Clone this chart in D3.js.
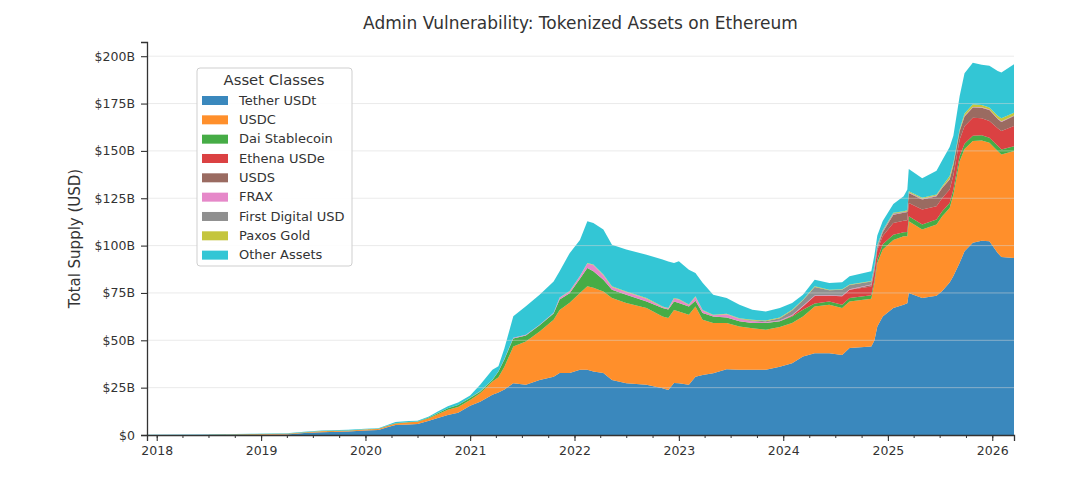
<!DOCTYPE html>
<html>
<head>
<meta charset="utf-8">
<script src="https://cdn.jsdelivr.net/npm/d3@7"></script>
<style>
  body { margin: 0; background: #fff; }
  svg { display: block; font-family: "DejaVu Sans", sans-serif; }
</style>
</head>
<body>
<div id="chart"></div>
<script>
// Sample dates (irregular, denser where the supply moves fast)
const dates = [
  "2017-11-28","2018-06-01","2018-12-01","2019-04-01","2019-06-01","2019-08-01","2019-11-01",
  "2020-01-01","2020-02-15","2020-03-20","2020-04-15","2020-06-01","2020-07-01","2020-08-10",
  "2020-09-10","2020-10-15","2020-11-20","2021-01-01","2021-02-05","2021-03-20","2021-04-10",
  "2021-05-01","2021-06-01","2021-07-15","2021-09-01","2021-10-20","2021-11-10","2021-12-15",
  "2022-01-20","2022-02-15","2022-03-08","2022-04-12","2022-05-12","2022-07-01","2022-09-10",
  "2022-11-05","2022-11-25","2022-12-15","2023-01-01","2023-02-05","2023-02-28","2023-03-25",
  "2023-05-01","2023-06-17","2023-08-01","2023-09-15","2023-11-01","2023-12-20","2024-02-01",
  "2024-03-10","2024-04-20","2024-06-10","2024-07-25","2024-08-20","2024-11-04","2024-11-15",
  "2024-11-25","2024-12-14","2025-01-20","2025-02-25","2025-03-10","2025-03-15","2025-05-01",
  "2025-06-20","2025-07-10","2025-08-05","2025-08-18","2025-09-09","2025-09-26","2025-10-25",
  "2025-11-25","2025-12-22","2026-01-20","2026-02-02","2026-03-18"
];

// Supply in billions USD per asset class
const tether = [
  0.02,0.1,0.15,0.3,1.0,1.5,1.8,
  2.4,2.6,4.2,5.3,5.6,5.8,7.5,
  9.0,10.5,11.8,15.5,17.6,21.2,22.5,
  24,27.3,26.5,29,30.8,32.8,32.8,
  34.4,34.4,33.5,32.8,29,27.3,26.5,
  24.7,23.8,27.5,27.3,26.5,30.8,31.7,
  32.6,34.7,34.4,34.4,34.4,36.1,37.9,
  41.4,43.2,43.2,42.3,45.9,46.7,50,
  57.3,62.6,67,68.8,69.5,75,72.3,
  73.5,76,80.5,84,91,97,101.5,
  102.5,102.3,96.1,94,93.4
];
const usdc = [
  0,0,0.25,0.3,0.35,0.45,0.45,
  0.5,0.6,0.7,0.8,1.1,1.2,1.4,
  2.0,2.8,3.0,3.0,4.5,7.0,8.0,
  12,19.4,22.9,25.7,30,33.2,37,
  40.6,44.1,44.3,43,43.3,42.4,40.5,
  37.9,38,38.5,37.9,37,37.1,29.1,
  26.5,24.4,22.9,22,21.2,20.9,21.2,
  21.2,24.7,25.6,24.7,24.6,25.3,30,
  33.5,35.4,36,36.1,35.5,37.9,36.2,
  37.6,39.5,39.4,43,53.6,54,53.7,
  53,52,53.9,54.1,56.5
];
const dai = [
  0.01,0.05,0.07,0.08,0.08,0.08,0.08,
  0.06,0.08,0.1,0.1,0.12,0.13,0.3,
  0.5,0.8,1.0,1.0,0.8,0.8,3.0,
  4,4.3,3.2,3.2,3.4,5.5,5.0,
  7.5,9.7,8.6,6.2,4.4,4.3,3.5,
  4.4,4.4,4.5,4.5,4.4,3.0,3.6,
  3.5,3.0,2.7,2.7,3.5,3.0,3.5,
  3.5,1.5,1.7,1.8,1.8,1.8,1.8,
  1.8,2.7,2.7,2.2,2.2,2.6,2.6,
  2.7,2.6,2.6,2.6,2.7,2.8,2.8,
  2.7,2.7,2.7,2.7,2.6
];
const ethena = [
  0,0,0,0,0,0,0,
  0,0,0,0,0,0,0,
  0,0,0,0,0,0,0,
  0,0,0,0,0,0,0,
  0,0,0,0,0,0,0,
  0,0,0,0,0,0,0,
  0,0,0,0,0,0,0.4,
  1.8,4.0,3.0,4.4,4.4,4.6,4.8,
  5,4.4,6.2,6,6.2,7,7.9,
  7,7,7.1,7.5,8.7,9.2,9.5,
  9,8.8,9.3,9.7,10.6
];
const usds = [
  0,0,0,0,0,0,0,
  0,0,0,0,0,0,0,
  0,0,0,0,0,0,0,
  0,0,0,0,0,0,0,
  0,0,0,0,0,0,0,
  0,0,0,0,0,0,0,
  0,0,0,0,0,0,0,
  0,0,0,0,0,0.8,1.0,
  1.2,2.0,4.4,4.2,4.3,5.3,5.3,
  5.3,5.3,5.3,5.3,4.5,5.2,5.4,
  5.6,5.8,4.8,4.8,5.3
];
const frax = [
  0,0,0,0,0,0,0,
  0,0,0,0,0,0,0,
  0.05,0.05,0.07,0.1,0.1,0.1,0.1,
  0.2,0.3,0.3,0.3,0.3,1.0,1.0,
  1.3,2.3,3.3,2.4,1.5,1.5,1.5,
  0.6,0.6,1.5,1.8,0.7,2.0,1.3,
  0.6,1.6,1.2,0.9,0.4,0.4,0.3,
  0.3,0.3,0.3,0.3,0.3,0.3,0.3,
  0.3,0.2,0.2,0.2,0.2,0.2,0.2,
  0.2,0.2,0.2,0.2,0.2,0.2,0.2,
  0.2,0.2,0.2,0.2,0.2
];
const fdusd = [
  0,0,0,0,0,0,0,
  0,0,0,0,0,0,0,
  0,0,0,0,0,0,0,
  0,0,0,0,0,0,0,
  0,0,0,0,0,0,0,
  0,0,0,0,0,0,0,
  0,0,0.2,0.5,0.6,1.3,2.5,
  2.9,4.5,2.6,3.2,2.2,1.5,1.2,
  1.0,0.5,0.4,0.3,0.3,0.2,0.2,
  0.2,0.2,0.2,0.2,0.1,0.1,0.1,
  0.1,0.1,0.1,0.1,0.1
];
const paxosGold = [
  0,0,0.02,0.03,0.03,0.03,0.03,
  0.03,0.03,0.03,0.03,0.03,0.03,0.03,
  0.03,0.03,0.03,0.04,0.04,0.05,0.05,
  0.05,0.05,0.05,0.05,0.1,0.1,0.2,
  0.2,0.3,0.3,0.3,0.3,0.3,0.3,
  0.3,0.3,0.3,0.3,0.3,0.3,0.3,
  0.3,0.3,0.3,0.3,0.3,0.3,0.3,
  0.3,0.3,0.3,0.3,0.3,0.3,0.3,
  0.3,0.3,0.4,0.4,0.4,0.5,0.5,
  0.5,0.6,1.4,1.0,0.6,1.2,1.4,
  1.2,1.0,1.5,1.6,1.5
];
const otherAssets = [
  0.05,0.15,0.2,0.25,0.3,0.35,0.35,
  0.3,0.3,0.4,0.7,0.6,0.4,0.5,
  0.8,1.0,1.2,1.2,3.5,5.3,2.6,
  5.5,11.3,15,15.8,16.4,13.8,20,
  19,22.1,22,23.8,22,22.1,22.9,
  24.7,24.5,18.5,19.9,18.4,12.4,14.4,
  10.5,8.3,7.1,5.3,4.8,5.0,3.6,
  2.6,3.5,3.6,3.6,4.3,5.1,5.6,
  5,4.9,4.7,7.8,11,11.8,10.3,
  12.5,13.6,15.3,14.2,17.6,21.3,21.9,
  21.2,22,23.6,24.2,25.6
];

const seriesNames = ["Tether USDt","USDC","Dai Stablecoin","Ethena USDe","USDS","FRAX","First Digital USD","Paxos Gold","Other Assets"];
const seriesValues = [tether, usdc, dai, ethena, usds, frax, fdusd, paxosGold, otherAssets];
const colors = ["#1f77b4","#ff7f0e","#2ca02c","#d62728","#8c564b","#e377c2","#7f7f7f","#bcbd22","#17becf"];
const yTicks = [0, 25, 50, 75, 100, 125, 150, 175, 200];

const width = 1080;
const height = 479;
const margin = { top: 42, right: 66, bottom: 44, left: 147 };

const parse = d3.timeParse("%Y-%m-%d");
const rows = dates.map((d, i) => {
    const row = { date: parse(d) };
    seriesNames.forEach((name, k) => { row[name] = seriesValues[k][i]; });
    return row;
});

const svg = d3.select("#chart")
    .append("svg")
    .attr("width", width)
    .attr("height", height);

const x = d3.scaleTime()
    .domain(d3.extent(rows, d => d.date))
    .range([margin.left, width - margin.right]);

const y = d3.scaleLinear()
    .domain([0, 207.5])
    .range([height - margin.bottom, margin.top]);

// Stacked areas
const stack = d3.stack().keys(seriesNames);
const layers = stack(rows);

const area = d3.area()
    .x(d => x(d.data.date))
    .y0(d => y(d[0]))
    .y1(d => y(d[1]));

svg.append("g")
    .selectAll("path")
    .data(layers)
    .join("path")
    .attr("d", area)
    .attr("fill", (d, i) => colors[i])
    .attr("fill-opacity", 0.88);

// Horizontal gridlines (drawn over the areas, faint)
svg.append("g")
    .selectAll("line")
    .data(yTicks.slice(1))
    .join("line")
    .attr("x1", margin.left)
    .attr("x2", width - margin.right)
    .attr("y1", d => y(d))
    .attr("y2", d => y(d))
    .attr("stroke", "#d8d8d8")
    .attr("stroke-opacity", 0.5)
    .attr("stroke-width", 1);

// Axes
const fmt = d => d === 0 ? "$0" : `$${d}B`;

const yAxis = svg.append("g")
    .attr("transform", `translate(${margin.left},0)`)
    .call(d3.axisLeft(y).tickValues(yTicks).tickFormat(fmt).tickSize(6).tickPadding(6));

const xAxis = svg.append("g")
    .attr("transform", `translate(0,${height - margin.bottom})`)
    .call(d3.axisBottom(x).ticks(d3.timeYear.every(1)).tickFormat(d3.timeFormat("%Y")).tickSize(6).tickPadding(5));

// Quarterly minor ticks
svg.append("g")
    .attr("transform", `translate(0,${height - margin.bottom})`)
    .call(d3.axisBottom(x).ticks(d3.timeMonth.every(3)).tickFormat("").tickSize(3))
    .call(g => g.select(".domain").remove());

[yAxis, xAxis].forEach(g => {
    g.select(".domain").attr("stroke", "#333").attr("stroke-width", 1.3);
    g.selectAll(".tick line").attr("stroke", "#333").attr("stroke-width", 1.1);
    g.selectAll(".tick text")
        .attr("fill", "#333")
        .style("font-size", "12.5px")
        .style("font-family", "DejaVu Sans, sans-serif");
});
svg.selectAll("g .tick line").attr("stroke", "#333");

// Title and axis label
svg.append("text")
    .attr("x", (margin.left + width - margin.right) / 2)
    .attr("y", 29)
    .attr("text-anchor", "middle")
    .attr("fill", "#333")
    .style("font-size", "17px")
    .text("Admin Vulnerability: Tokenized Assets on Ethereum");

svg.append("text")
    .attr("transform", `translate(80,${(margin.top + height - margin.bottom) / 2}) rotate(-90)`)
    .attr("text-anchor", "middle")
    .attr("fill", "#333")
    .style("font-size", "15px")
    .text("Total Supply (USD)");

// Legend
const legend = svg.append("g").attr("transform", "translate(197,68)");

legend.append("rect")
    .attr("width", 155)
    .attr("height", 198)
    .attr("rx", 3)
    .attr("fill", "#fff")
    .attr("fill-opacity", 0.9)
    .attr("stroke", "#cfcfcf");

legend.append("text")
    .attr("x", 77)
    .attr("y", 17)
    .attr("text-anchor", "middle")
    .attr("fill", "#333")
    .style("font-size", "14.8px")
    .text("Asset Classes");

const items = legend.selectAll("g.item")
    .data(seriesNames)
    .join("g")
    .attr("class", "item")
    .attr("transform", (d, i) => `translate(0,${32 + i * 19.33})`);

items.append("rect")
    .attr("x", 5)
    .attr("y", -4)
    .attr("width", 26)
    .attr("height", 9)
    .attr("fill", (d, i) => colors[i])
    .attr("fill-opacity", 0.88);

items.append("text")
    .attr("x", 42)
    .attr("y", 0)
    .attr("dy", "0.35em")
    .attr("fill", "#333")
    .style("font-size", "13px")
    .text(d => d);
</script>
</body>
</html>
